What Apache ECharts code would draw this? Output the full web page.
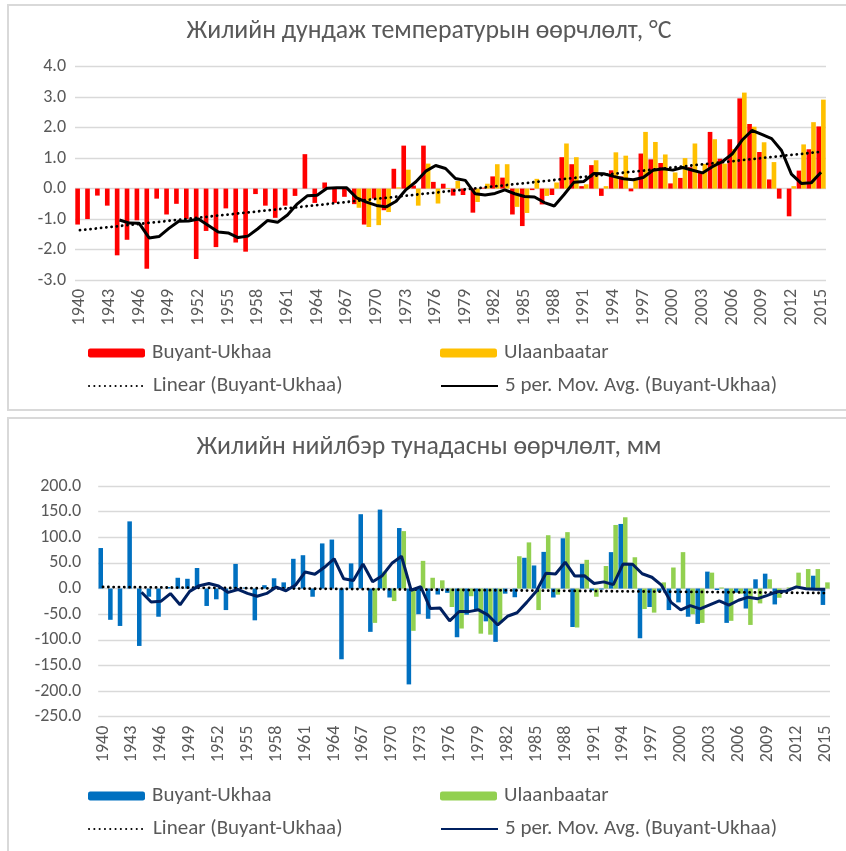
<!DOCTYPE html>
<html><head><meta charset="utf-8">
<script src="https://cdn.jsdelivr.net/npm/echarts@6/dist/echarts.min.js"></script>
<style>
html,body{margin:0;padding:0;background:#fff;width:846px;height:851px;overflow:hidden}
#top{position:absolute;left:0;top:0;width:846px;height:414px}
#bot{position:absolute;left:0;top:414px;width:846px;height:437px}
</style></head><body>
<div id="top"></div><div id="bot"></div>
<script>
const years = [1940,1941,1942,1943,1944,1945,1946,1947,1948,1949,1950,1951,1952,1953,1954,1955,1956,1957,1958,1959,
1960,1961,1962,1963,1964,1965,1966,1967,1968,1969,1970,1971,1972,1973,1974,1975,1976,1977,1978,1979,
1980,1981,1982,1983,1984,1985,1986,1987,1988,1989,1990,1991,1992,1993,1994,1995,1996,1997,1998,1999,
2000,2001,2002,2003,2004,2005,2006,2007,2008,2009,2010,2011,2012,2013,2014,2015];

const tempBuyant = [-1.18,-1.0,-0.23,-0.56,-2.19,-1.68,-1.04,-2.63,-0.33,-0.85,
-0.5,-1.0,-2.31,-1.39,-1.92,-0.65,-1.77,-2.07,-0.18,-0.56,
-0.96,-0.56,-0.24,1.13,-0.47,0.2,-0.47,-0.27,-0.51,-1.18,
-0.33,-0.71,0.65,1.41,0.1,1.41,0.22,0.16,-0.23,-0.21,
-0.79,0.03,0.4,0.36,-0.85,-1.23,-0.05,-0.52,-0.21,1.03,
0.8,0.08,0.77,-0.24,0.6,0.4,-0.09,1.15,0.96,0.84,
0.17,0.35,0.7,0.51,1.86,0.98,1.62,2.96,2.12,1.2,
0.3,-0.33,-0.91,0.59,1.29,2.04];

const tempUB = [null,null,null,null,null,null,null,null,null,null,
null,null,null,null,null,null,null,null,null,null,
null,null,null,null,null,null,null,null,-0.63,-1.26,
-1.2,-0.77,0.04,0.62,-0.56,0.82,-0.49,0.02,0.25,0,
-0.44,0.16,0.8,0.8,-0.6,-0.8,0.32,-0.24,0.2,1.48,
1.03,0.14,0.93,0.08,1.19,1.08,0.28,1.86,1.53,1.12,
0.53,1.0,1.48,0.81,1.62,0.82,1.3,3.15,2.03,1.52,
0.87,0,0.08,1.45,2.18,2.92];

const precBuyant = [79,-61,-73,131,-112,-16,-55,3,21,19,
40,-34,-21,-42,48,2,-62,6.5,20,12,
58,65,-16,88,95.5,-138,49,145,-84.5,154,
-17.5,118,-187,-50,-59,-11.7,-8.4,-95,-51,-41.5,
-64,-104,-10,-17,60,45,71.5,-17.5,98,-75,
48,-4,-2,71,126,46,-97,-36,-6,-42,
-27,-55,-69,33,-3,-67,-8,-39,18,29,
-31,0,0,0,25,-32];

const precUB = [null,null,null,null,null,null,null,null,null,null,
null,null,null,null,null,null,null,null,null,null,
null,null,null,null,null,null,null,null,-67,33,
-24.5,112,-82.5,54,21,16,-36,-78,-15,-88,
-90,-67,0,63,90,-42,104,-12,110,-76,
56,-16,44,124,139,61,-40,-47,12,41,
71,-50,-67,31,2,-63,-10,-71,-29,18,
-18,2,31,38,38,12];

const tempTicks = {min:-3, max:4, interval:1};
const precTicks = {min:-250, max:200, interval:50};

// Trend lines as defined by the original chart (Excel trendlines of Buyant-Ukhaa)
function movAvg(a, n){ return a.map((v,i)=> i<n-1 ? null : a.slice(i-n+1,i+1).reduce((s,x)=>s+x,0)/n); }
function linear(a){ const n=a.length; let sx=0,sy=0,sxx=0,sxy=0;
  a.forEach((y,x)=>{sx+=x;sy+=y;sxx+=x*x;sxy+=x*y;});
  const b=(n*sxy-sx*sy)/(n*sxx-sx*sx), c=(sy-b*sx)/n; return a.map((_,x)=>c+b*x); }

const FONT = 'Carlito, Roboto, sans-serif';
const TXT = '#595959';

function build(o){
  const legendItem = (name, left, top, isLine) => {
    const l = {
      data:[name], left:left, top:top, padding:0, itemWidth:57, itemHeight:9, itemGap:0,
      selectedMode:false,
      textStyle:{fontFamily:FONT, fontSize:21, color:TXT, lineHeight:24, padding:[0,0,0,2]}
    };
    if (isLine) l.itemStyle = {opacity:0};
    return l;
  };
  return {
    animation:false,
    textStyle:{fontFamily:FONT},
    graphic:[{type:'rect', shape:{x:o.box[0], y:o.box[1], width:o.box[2], height:o.box[3]},
      style:{fill:'none', stroke:'#d9d9d9', lineWidth:2}, silent:true}],
    title:{text:o.title, left:429, top:o.titleTop, textAlign:'center', padding:0,
      textStyle:{fontFamily:FONT, fontSize:25.8, fontWeight:'normal', color:TXT}},
    legend:[legendItem(o.names[0], 88, o.leg1, false), legendItem(o.names[1], 440, o.leg1, false),
            legendItem(o.names[2], 88, o.leg2, true), legendItem(o.names[3], 440, o.leg2, true)],
    grid:o.grid,
    xAxis:{type:'category', data:years, boundaryGap:true,
      axisLine:{show:false}, axisTick:{show:false},
      axisLabel:{interval:2, rotate:90, fontSize:18, color:TXT, margin:o.xMargin, fontFamily:FONT}},
    yAxis:{type:'value', min:o.ticks.min, max:o.ticks.max, interval:o.ticks.interval,
      axisLine:{show:false}, axisTick:{show:false},
      splitLine:{lineStyle:{color:'#d9d9d9', width:1.3}},
      axisLabel:{formatter:v=>v.toFixed(1), fontSize:o.yFont, color:TXT, margin:o.yMargin, fontFamily:FONT}},
    series:[
      {name:o.names[0], type:'bar', data:o.a, itemStyle:{color:o.colors[0]}, barGap:'0%', barCategoryGap:'6%'},
      {name:o.names[1], type:'bar', data:o.b, itemStyle:{color:o.colors[1]}, barGap:'0%', barCategoryGap:'6%'},
      {name:o.names[2], type:'line', data:linear(o.a), symbol:'none', z:5,
        lineStyle:{color:'#000', width:2.8, type:[0.1,5.2], cap:'round'}, itemStyle:{color:'#000'}},
      {name:o.names[3], type:'line', data:movAvg(o.a,5), symbol:'none', z:6,
        lineStyle:{color:o.colors[2], width:3}, itemStyle:{color:o.colors[2]}}
    ]
  };
}

const names = ['Buyant-Ukhaa','Ulaanbaatar','Linear (Buyant-Ukhaa)','5 per. Mov. Avg. (Buyant-Ukhaa)'];

echarts.init(document.getElementById('top'), null, {renderer:'canvas'}).setOption(build({
  title:'Жилийн дундаж температурын өөрчлөлт, °C', titleTop:19,
  box:[8,5,850,405], names:names, leg1:341, leg2:374,
  grid:{left:75, right:20, top:66.7, bottom:134},
  ticks:tempTicks, yFont:18, yMargin:9, xMargin:9,
  a:tempBuyant, b:tempUB, colors:['#ff0000','#ffc000','#000000']
}));

echarts.init(document.getElementById('bot'), null, {renderer:'canvas'}).setOption(build({
  title:'Жилийн нийлбэр тунадасны өөрчлөлт, мм', titleTop:21,
  box:[8,4,850,450], names:names, leg1:370, leg2:403,
  grid:{left:98.2, right:16, top:72, bottom:134.3},
  ticks:precTicks, yFont:18, yMargin:17, xMargin:9,
  a:precBuyant, b:precUB, colors:['#0070c0','#92d050','#002060']
}));
</script>
</body></html>
